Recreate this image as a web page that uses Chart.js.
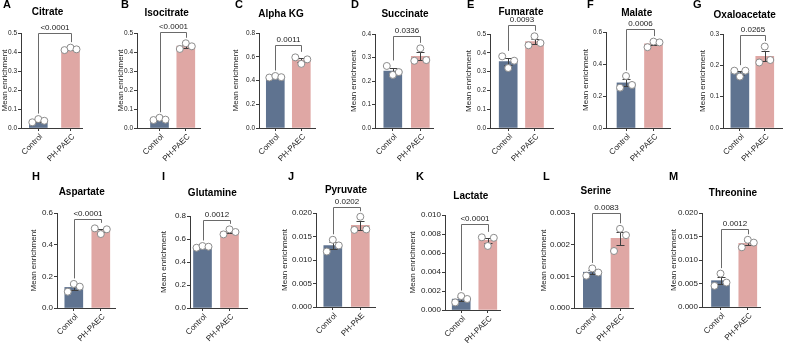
<!DOCTYPE html>
<html>
<head>
<meta charset="utf-8">
<script src="https://cdn.jsdelivr.net/npm/chart.js@4.4.0/dist/chart.umd.min.js"></script>
<style>
  html, body { margin: 0; padding: 0; background: #fff; }
  #wrap { position: relative; width: 787px; height: 343px; }
  #wrap canvas { position: absolute; left: 0; top: 0; }
</style>
</head>
<body>
<div id="wrap"></div>
<script>
const panelLetters = ['A', 'B', 'C', 'D', 'E', 'F', 'G', 'H', 'I', 'J', 'K', 'L', 'M']
const panelTitles = ['Citrate', 'Isocitrate', 'Alpha KG', 'Succinate', 'Fumarate', 'Malate', 'Oxaloacetate',
  'Aspartate', 'Glutamine', 'Pyruvate', 'Lactate', 'Serine', 'Threonine']
const groupLabels = [
  ['Control', 'PH-PAEC'], ['Control', 'PH-PAEC'], ['Control', 'PH-PAEC'], ['Control', 'PH-PAEC'],
  ['Control', 'PH-PAEC'], ['Control', 'PH-PAEC'], ['Control', 'PH-PAEC'], ['Control', 'PH-PAEC'],
  ['Control', 'PH-PAEC'], ['Control', 'PH-PAE'], ['Control', 'PH-PAEC'], ['Control', 'PH-PAEC'],
  ['Control', 'PH-PAEC']
]

// individual replicates
const controlValues = [
  [0.030, 0.047, 0.038],
  [0.042, 0.054, 0.044],
  [0.425, 0.438, 0.428],
  [0.264, 0.226, 0.238],
  [0.381, 0.319, 0.358],
  [0.252, 0.325, 0.269],
  [0.183, 0.164, 0.183],
  [0.103, 0.152, 0.135],
  [0.524, 0.539, 0.533],
  [0.0118, 0.0143, 0.0131],
  [0.0008, 0.00147, 0.00116],
  [0.00102, 0.00125, 0.00112],
  [0.0045, 0.0071, 0.0052]
]
const phValues = [
  [0.410, 0.423, 0.414],
  [0.416, 0.446, 0.430],
  [0.595, 0.540, 0.578],
  [0.286, 0.339, 0.289],
  [0.440, 0.488, 0.452],
  [0.505, 0.540, 0.535],
  [0.209, 0.260, 0.217],
  [0.503, 0.467, 0.497],
  [0.640, 0.684, 0.661],
  [0.0164, 0.0192, 0.0165],
  [0.00765, 0.00674, 0.0076],
  [0.0018, 0.0025, 0.0023],
  [0.0127, 0.0143, 0.0137]
]
const pValues = ['<0.0001', '<0.0001', '0.0011', '0.0336', '0.0093', '0.0006', '0.0265',
  '<0.0001', '0.0012', '0.0202', '<0.0001', '0.0083', '0.0012']
const bracketLevels = [0.50, 0.504, 0.70, 0.391, 0.546, 0.617, 0.297, 0.56, 0.765, 0.0213, 0.00905, 0.00299, 0.0167]
const yMax = [0.5, 0.5, 0.8, 0.4, 0.5, 0.6, 0.3, 0.6, 0.8, 0.020, 0.010, 0.003, 0.020]
const yStep = [0.1, 0.1, 0.2, 0.1, 0.1, 0.2, 0.1, 0.2, 0.2, 0.005, 0.002, 0.001, 0.005]
const yDecimals = [1, 1, 1, 1, 1, 1, 1, 1, 1, 3, 3, 3, 3]

// page layout of each panel:
// [axisLeft, axisRight, plotTop, plotBottom, ctrlCenter, phCenter, titleX, titleY, letterX, letterY, yTitleGap, tickFont]
const layout = [
  [21, 82, 33, 128, 38.3, 70.5, 47.5, 12.7, 3, 5, 16, 6.5],
  [137, 200, 33, 128, 159.5, 185.8, 166.7, 13.3, 121, 5, 16.5, 6.5],
  [259, 315, 33, 128, 275.3, 301.3, 281, 14, 235, 4.5, 23.5, 6.5],
  [375, 433, 34, 128, 392.8, 420.3, 405, 14, 351, 5, 21, 6.5],
  [490, 553, 34, 128, 508.2, 534.5, 521, 12.7, 467, 5, 21, 6.5],
  [606, 670, 32, 128, 626, 653.5, 636.7, 13.3, 587, 5, 20.5, 6.5],
  [723, 787, 34, 128, 741.3, 768.3, 744.7, 15, 693, 5, 20.5, 6.5],
  [57, 115, 213, 308, 73.8, 100.8, 81.7, 192.7, 32, 176.7, 23, 8],
  [190, 247, 216, 308, 202.5, 229.5, 212.3, 193.3, 162, 177, 26, 8],
  [316, 375, 213, 307, 332.8, 360.3, 346, 190, 288, 176.7, 31.5, 8],
  [445, 500, 215, 310, 461.2, 487.8, 470.8, 196, 416, 177, 32, 8],
  [574, 633, 213, 308, 592.3, 620, 595.8, 191.7, 543, 177, 30, 8],
  [702, 760, 213, 307, 720.5, 747.8, 733, 193.3, 669, 177, 28, 8]
]

const W = 787, H = 343
const ctrlColor = '#5f7390'
const phColor = '#dfa7a4'
const axisColor = '#3a3a3a'
const textColor = '#222'
const pointRadius = 3.5
const jitterPx = 6
const fontFamily = "'Liberation Sans', Arial, sans-serif"

Chart.defaults.font.family = fontFamily

function mean(arr) {
  let s = 0
  for (let i = 0; i < arr.length; i++) s += arr[i]
  return s / arr.length
}

function sem(arr) {
  const m = mean(arr)
  let s = 0
  for (let i = 0; i < arr.length; i++) s += (arr[i] - m) * (arr[i] - m)
  return Math.sqrt(s / (arr.length - 1)) / Math.sqrt(arr.length)
}

function makePanel(p) {
  const lay = layout[p]
  const L = lay[0], R = lay[1], T = lay[2], B = lay[3], c1 = lay[4], c2 = lay[5]
  const unit = c2 - c1
  const xMin = -(c1 - L) / unit
  const xMax = 1 + (R - c2) / unit
  const yAxisW = lay[10] + 4.8
  const xAxisH = 40
  const groups = [controlValues[p], phValues[p]]
  const means = [mean(groups[0]), mean(groups[1])]
  const sems = [sem(groups[0]), sem(groups[1])]

  const pts = []
  for (let g = 0; g < 2; g++) {
    for (let k = 0; k < groups[g].length; k++) {
      pts.push({x: g + (k - 1) * jitterPx / unit, y: groups[g][k]})
    }
  }

  const canvas = document.createElement('canvas')
  canvas.width = W
  canvas.height = H
  document.getElementById('wrap').appendChild(canvas)

  const decorations = {
    id: 'decorations' + p,
    afterDatasetDraw(chart, args) {
      if (args.index !== 0) return
      // error bars (mean +/- SEM), drawn between bars and points
      const ctx = chart.ctx
      const xs = chart.scales.x, ys = chart.scales.y
      ctx.save()
      ctx.strokeStyle = '#3f3f3f'
      ctx.lineWidth = 1
      for (let g = 0; g < 2; g++) {
        const x = Math.round(xs.getPixelForValue(g)) + 0.5
        const yt = Math.round(ys.getPixelForValue(means[g] + sems[g])) + 0.5
        const yb = Math.round(ys.getPixelForValue(means[g] - sems[g])) + 0.5
        ctx.beginPath()
        ctx.moveTo(x, yt); ctx.lineTo(x, yb)
        ctx.moveTo(x - 4, yt); ctx.lineTo(x + 4, yt)
        ctx.moveTo(x - 4, yb); ctx.lineTo(x + 4, yb)
        ctx.stroke()
      }
      ctx.restore()
    },
    afterDraw(chart) {
      const ctx = chart.ctx
      const xs = chart.scales.x, ys = chart.scales.y
      ctx.save()
      // significance bracket
      const yb = Math.round(ys.getPixelForValue(bracketLevels[p])) + 0.5
      const legs = []
      for (let g = 0; g < 2; g++) {
        const topVal = Math.max(Math.max.apply(null, groups[g]), means[g] + sems[g])
        legs.push(ys.getPixelForValue(topVal) - pointRadius - 2)
      }
      const x0 = Math.round(xs.getPixelForValue(0)) + 0.5
      const x1 = Math.round(xs.getPixelForValue(1)) + 0.5
      ctx.strokeStyle = '#6a6a6a'
      ctx.lineWidth = 1
      ctx.beginPath()
      ctx.moveTo(x0, legs[0]); ctx.lineTo(x0, yb); ctx.lineTo(x1, yb); ctx.lineTo(x1, legs[1])
      ctx.stroke()
      ctx.fillStyle = textColor
      ctx.font = '8px ' + fontFamily
      ctx.textAlign = 'center'
      ctx.textBaseline = 'bottom'
      ctx.fillText(pValues[p], (x0 + x1) / 2, yb - 1.5)
      // panel title and letter
      ctx.font = 'bold 10px ' + fontFamily
      ctx.textBaseline = 'middle'
      ctx.fillStyle = '#000'
      ctx.fillText(panelTitles[p], lay[6], lay[7])
      ctx.font = 'bold 11px ' + fontFamily
      ctx.textAlign = 'left'
      ctx.fillText(panelLetters[p], lay[8], lay[9])
      ctx.restore()
    }
  }

  new Chart(canvas, {
    type: 'bar',
    data: {
      datasets: [{
        type: 'bar',
        data: [{x: 0, y: means[0]}, {x: 1, y: means[1]}],
        backgroundColor: [ctrlColor, phColor],
        borderWidth: 0,
        barThickness: 18,
        order: 2
      }, {
        type: 'scatter',
        data: pts,
        pointRadius: pointRadius,
        pointBackgroundColor: '#fff',
        pointBorderColor: '#8c8c8c',
        pointBorderWidth: 1,
        showLine: false,
        clip: false,
        order: 1
      }]
    },
    options: {
      responsive: false,
      animation: false,
      events: [],
      layout: {
        padding: {left: L - yAxisW, top: T, right: W - R, bottom: H - B - xAxisH}
      },
      plugins: {
        legend: {display: false},
        title: {display: false},
        tooltip: {enabled: false}
      },
      scales: {
        x: {
          type: 'linear',
          offset: false,
          min: xMin,
          max: xMax,
          afterBuildTicks: (s) => { s.ticks = [{value: 0}, {value: 1}] },
          afterFit: (s) => { s.height = xAxisH },
          ticks: {
            callback: (v, i) => groupLabels[p][i],
            minRotation: 45,
            maxRotation: 45,
            autoSkip: false,
            labelOffset: 3,
            padding: 1,
            color: textColor,
            font: {size: 8}
          },
          grid: {display: true, offset: false, drawOnChartArea: false, tickLength: 3, color: axisColor},
          border: {display: true, color: axisColor, width: 1}
        },
        y: {
          type: 'linear',
          min: 0,
          max: yMax[p],
          afterFit: (s) => { s.width = yAxisW },
          ticks: {
            stepSize: yStep[p],
            callback: (v) => v.toFixed(yDecimals[p]),
            padding: 1,
            color: textColor,
            font: {size: lay[11]}
          },
          grid: {display: true, drawOnChartArea: false, tickLength: 3, color: axisColor},
          border: {display: true, color: axisColor, width: 1},
          title: {
            display: true,
            text: 'Mean enrichment',
            padding: 0,
            color: textColor,
            font: {size: 8}
          }
        }
      }
    },
    plugins: [decorations]
  })
}

for (let p = 0; p < panelTitles.length; p++) {
  makePanel(p)
}
</script>
</body>
</html>
